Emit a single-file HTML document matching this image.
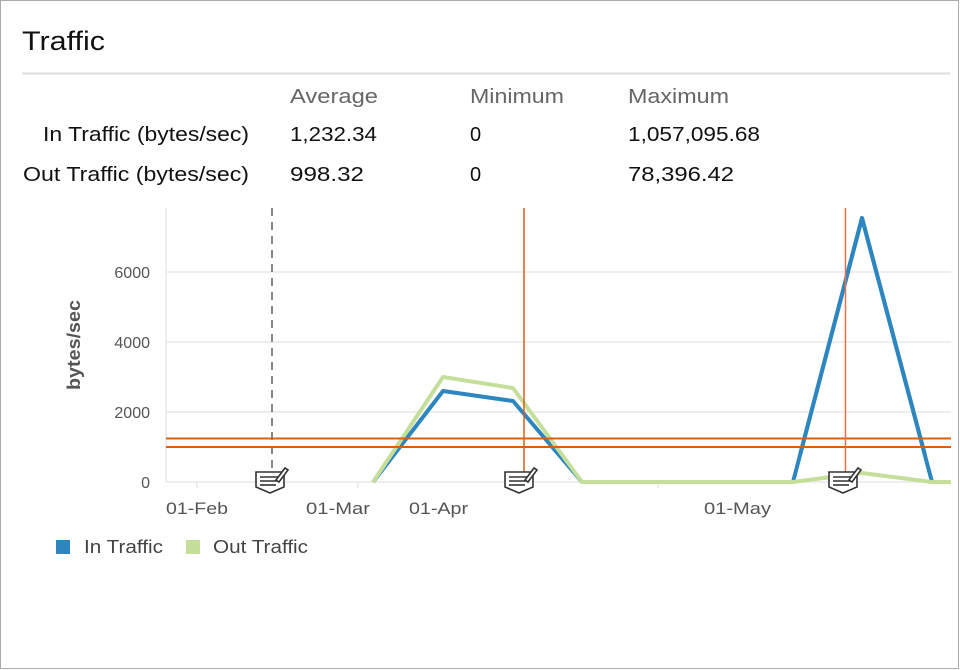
<!DOCTYPE html>
<html><head><meta charset="utf-8"><style>
html,body{margin:0;padding:0;background:#fff;}
svg{display:block;font-family:"Liberation Sans",sans-serif;}
</style></head><body>
<svg width="960" height="670" viewBox="0 0 960 670">
<rect x="0.5" y="0.5" width="958" height="668" fill="#fff" stroke="#aaa"/>
<text x="22" y="50" font-size="27" fill="#111" textLength="83" lengthAdjust="spacingAndGlyphs">Traffic</text>
<line x1="22" y1="73.5" x2="950" y2="73.5" stroke="#ddd" stroke-width="2"/>
<g font-size="20" fill="#666">
<text x="290" y="103" textLength="88" lengthAdjust="spacingAndGlyphs">Average</text><text x="470" y="103" textLength="94" lengthAdjust="spacingAndGlyphs">Minimum</text><text x="628" y="103" textLength="101" lengthAdjust="spacingAndGlyphs">Maximum</text>
</g>
<g font-size="20" fill="#111">
<text x="43" y="141" textLength="206" lengthAdjust="spacingAndGlyphs">In Traffic (bytes/sec)</text>
<text x="290" y="141" textLength="87" lengthAdjust="spacingAndGlyphs">1,232.34</text><text x="470" y="141">0</text><text x="628" y="141" textLength="132" lengthAdjust="spacingAndGlyphs">1,057,095.68</text>
<text x="23" y="181" textLength="226" lengthAdjust="spacingAndGlyphs">Out Traffic (bytes/sec)</text>
<text x="290" y="181" textLength="74" lengthAdjust="spacingAndGlyphs">998.32</text><text x="470" y="181">0</text><text x="628" y="181" textLength="106" lengthAdjust="spacingAndGlyphs">78,396.42</text>
</g>
<g stroke="#e8e8e8" stroke-width="1.5">
<line x1="166" y1="272" x2="951" y2="272"/>
<line x1="166" y1="342" x2="951" y2="342"/>
<line x1="166" y1="412" x2="951" y2="412"/>
<line x1="166" y1="482" x2="951" y2="482"/>
<line x1="166" y1="208" x2="166" y2="482"/>
<line x1="197" y1="482" x2="197" y2="488"/>
<line x1="358" y1="482" x2="358" y2="488"/>
<line x1="658" y1="482" x2="658" y2="488"/>
</g>
<g font-size="16" fill="#555" text-anchor="end">
<text x="150" y="278">6000</text><text x="150" y="348">4000</text><text x="150" y="418">2000</text><text x="150" y="488">0</text>
</g>
<text transform="translate(80,345) rotate(-90)" font-size="18" font-weight="bold" fill="#555" text-anchor="middle" textLength="90" lengthAdjust="spacingAndGlyphs">bytes/sec</text>
<g font-size="17" fill="#555">
<text x="166" y="514" textLength="62" lengthAdjust="spacingAndGlyphs">01-Feb</text><text x="306" y="514" textLength="64" lengthAdjust="spacingAndGlyphs">01-Mar</text><text x="409" y="514" textLength="59" lengthAdjust="spacingAndGlyphs">01-Apr</text><text x="704" y="514" textLength="67" lengthAdjust="spacingAndGlyphs">01-May</text>
</g>
<line x1="272" y1="208" x2="272" y2="482" stroke="#888" stroke-width="2" stroke-dasharray="8,6"/>
<polyline fill="none" stroke="#2e86c1" stroke-width="4" stroke-linejoin="round" points="373,482 443,391 513,401 582,482 793,482 862,218 932,482"/>
<polyline fill="none" stroke="#c5df9a" stroke-width="4" stroke-linejoin="round" points="373,482 443,377 513,388 582,482 793,482 862,473 932,482 951,482"/>
<polyline fill="none" stroke="#2e86c1" stroke-width="4" stroke-linejoin="round" points="800,455 862,218 925,455"/>
<line x1="166" y1="438.5" x2="951" y2="438.5" stroke="#d95f0e" stroke-width="2"/>
<line x1="166" y1="447" x2="951" y2="447" stroke="#d95f0e" stroke-width="2"/>
<line x1="524" y1="208" x2="524" y2="482" stroke="#d95f0e" stroke-width="1.5"/>
<line x1="845.5" y1="208" x2="845.5" y2="482" stroke="#e8704a" stroke-width="1.5"/>
<g id="ic" fill="#fff" stroke="#333" stroke-width="1.6">
<path d="M256,472 h28 v15 l-14,6 l-14,-6 z"/>
<line x1="260" y1="477" x2="278" y2="477"/><line x1="260" y1="481" x2="278" y2="481"/><line x1="260" y1="485" x2="276" y2="485"/>
<path d="M276,480 l9,-12 l3,2 l-9,12 z"/>
</g>
<use href="#ic" x="249"/>
<use href="#ic" x="573"/>
<rect x="56" y="540" width="14" height="14" fill="#2e86c1"/>
<text x="84" y="553" font-size="18" fill="#444" textLength="79" lengthAdjust="spacingAndGlyphs">In Traffic</text>
<rect x="186" y="540" width="14" height="14" fill="#c5df9a"/>
<text x="213" y="553" font-size="18" fill="#444" textLength="95" lengthAdjust="spacingAndGlyphs">Out Traffic</text>
</svg>
</body></html>
